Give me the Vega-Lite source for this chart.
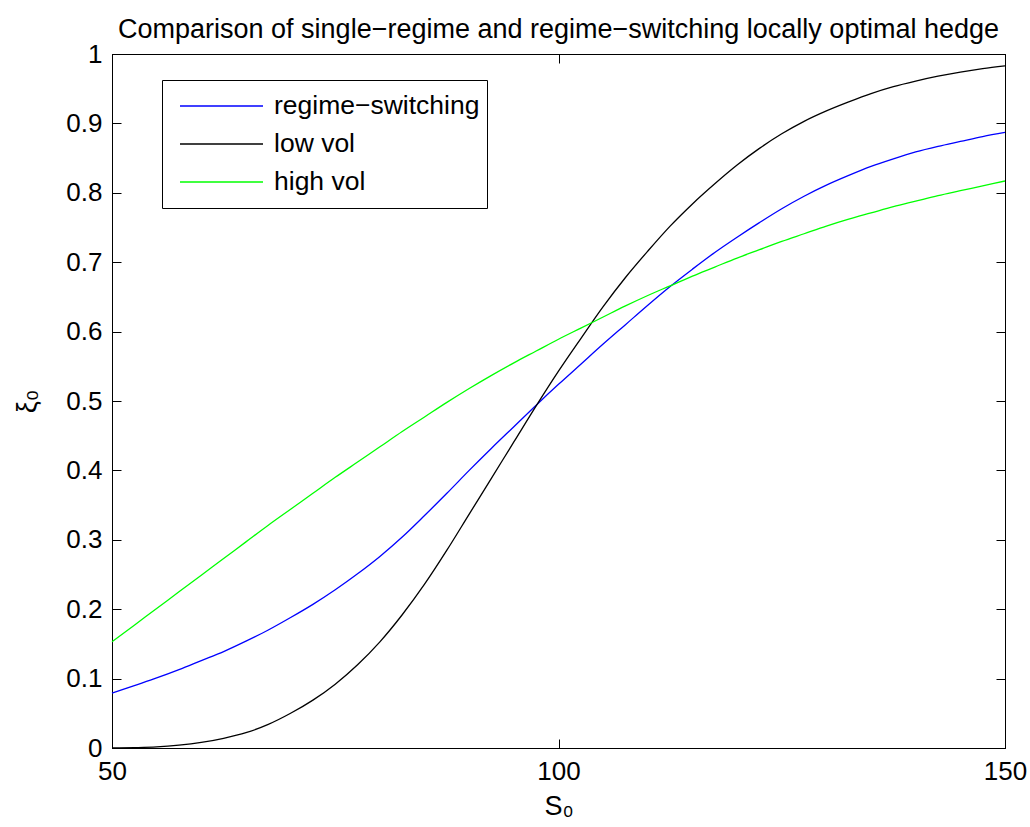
{
  "$schema": "https://vega.github.io/schema/vega-lite/v6.json",
  "width": 893,
  "height": 694,
  "autosize": {"type": "none"},
  "padding": {"left": 112, "top": 54, "right": 25, "bottom": 79},
  "background": "white",
  "config": {
    "font": "Liberation Sans",
    "view": {"stroke": "black", "strokeWidth": 1},
    "axis": {
      "domainColor": "black", "domainWidth": 1,
      "tickColor": "black", "tickWidth": 1, "tickSize": -9,
      "labelFont": "Liberation Sans", "labelFontSize": 26, "labelColor": "black",
      "titleFont": "Liberation Sans", "titleFontSize": 27, "titleFontWeight": "normal", "titleColor": "black",
      "grid": false
    },
    "legend": {
      "labelFont": "Liberation Sans", "labelFontSize": 26.5, "labelColor": "black"
    }
  },
  "title": {
    "text": "Comparison of single−regime and regime−switching locally optimal hedge",
    "font": "Liberation Sans", "fontSize": 27, "fontWeight": "normal", "color": "black",
    "anchor": "middle", "offset": -3
  },
  "data": {
    "values": [
      {"S": 50, "v": 0.079, "series": "regime−switching"},
      {"S": 52.5, "v": 0.090, "series": "regime−switching"},
      {"S": 55, "v": 0.101, "series": "regime−switching"},
      {"S": 57.5, "v": 0.113, "series": "regime−switching"},
      {"S": 60, "v": 0.126, "series": "regime−switching"},
      {"S": 62.5, "v": 0.139, "series": "regime−switching"},
      {"S": 65, "v": 0.154, "series": "regime−switching"},
      {"S": 67.5, "v": 0.170, "series": "regime−switching"},
      {"S": 70, "v": 0.188, "series": "regime−switching"},
      {"S": 72.5, "v": 0.207, "series": "regime−switching"},
      {"S": 75, "v": 0.228, "series": "regime−switching"},
      {"S": 77.5, "v": 0.251, "series": "regime−switching"},
      {"S": 80, "v": 0.276, "series": "regime−switching"},
      {"S": 82.5, "v": 0.304, "series": "regime−switching"},
      {"S": 85, "v": 0.335, "series": "regime−switching"},
      {"S": 87.5, "v": 0.367, "series": "regime−switching"},
      {"S": 90, "v": 0.400, "series": "regime−switching"},
      {"S": 92.5, "v": 0.432, "series": "regime−switching"},
      {"S": 95, "v": 0.463, "series": "regime−switching"},
      {"S": 97.5, "v": 0.494, "series": "regime−switching"},
      {"S": 100, "v": 0.524, "series": "regime−switching"},
      {"S": 102.5, "v": 0.553, "series": "regime−switching"},
      {"S": 105, "v": 0.582, "series": "regime−switching"},
      {"S": 107.5, "v": 0.610, "series": "regime−switching"},
      {"S": 110, "v": 0.638, "series": "regime−switching"},
      {"S": 112.5, "v": 0.665, "series": "regime−switching"},
      {"S": 115, "v": 0.690, "series": "regime−switching"},
      {"S": 117.5, "v": 0.714, "series": "regime−switching"},
      {"S": 120, "v": 0.736, "series": "regime−switching"},
      {"S": 122.5, "v": 0.757, "series": "regime−switching"},
      {"S": 125, "v": 0.777, "series": "regime−switching"},
      {"S": 127.5, "v": 0.795, "series": "regime−switching"},
      {"S": 130, "v": 0.811, "series": "regime−switching"},
      {"S": 132.5, "v": 0.825, "series": "regime−switching"},
      {"S": 135, "v": 0.838, "series": "regime−switching"},
      {"S": 137.5, "v": 0.849, "series": "regime−switching"},
      {"S": 140, "v": 0.859, "series": "regime−switching"},
      {"S": 142.5, "v": 0.867, "series": "regime−switching"},
      {"S": 145, "v": 0.874, "series": "regime−switching"},
      {"S": 147.5, "v": 0.881, "series": "regime−switching"},
      {"S": 150, "v": 0.887, "series": "regime−switching"},

      {"S": 50, "v": 0.000, "series": "low vol"},
      {"S": 52.5, "v": 0.0005, "series": "low vol"},
      {"S": 55, "v": 0.0015, "series": "low vol"},
      {"S": 57.5, "v": 0.004, "series": "low vol"},
      {"S": 60, "v": 0.008, "series": "low vol"},
      {"S": 62.5, "v": 0.014, "series": "low vol"},
      {"S": 65, "v": 0.022, "series": "low vol"},
      {"S": 67.5, "v": 0.034, "series": "low vol"},
      {"S": 70, "v": 0.050, "series": "low vol"},
      {"S": 72.5, "v": 0.069, "series": "low vol"},
      {"S": 75, "v": 0.092, "series": "low vol"},
      {"S": 77.5, "v": 0.120, "series": "low vol"},
      {"S": 80, "v": 0.153, "series": "low vol"},
      {"S": 82.5, "v": 0.192, "series": "low vol"},
      {"S": 85, "v": 0.236, "series": "low vol"},
      {"S": 87.5, "v": 0.285, "series": "low vol"},
      {"S": 90, "v": 0.337, "series": "low vol"},
      {"S": 92.5, "v": 0.389, "series": "low vol"},
      {"S": 95, "v": 0.441, "series": "low vol"},
      {"S": 97.5, "v": 0.493, "series": "low vol"},
      {"S": 100, "v": 0.543, "series": "low vol"},
      {"S": 102.5, "v": 0.590, "series": "low vol"},
      {"S": 105, "v": 0.636, "series": "low vol"},
      {"S": 107.5, "v": 0.678, "series": "low vol"},
      {"S": 110, "v": 0.716, "series": "low vol"},
      {"S": 112.5, "v": 0.752, "series": "low vol"},
      {"S": 115, "v": 0.784, "series": "low vol"},
      {"S": 117.5, "v": 0.813, "series": "low vol"},
      {"S": 120, "v": 0.840, "series": "low vol"},
      {"S": 122.5, "v": 0.864, "series": "low vol"},
      {"S": 125, "v": 0.885, "series": "low vol"},
      {"S": 127.5, "v": 0.903, "series": "low vol"},
      {"S": 130, "v": 0.918, "series": "low vol"},
      {"S": 132.5, "v": 0.931, "series": "low vol"},
      {"S": 135, "v": 0.943, "series": "low vol"},
      {"S": 137.5, "v": 0.953, "series": "low vol"},
      {"S": 140, "v": 0.961, "series": "low vol"},
      {"S": 142.5, "v": 0.968, "series": "low vol"},
      {"S": 145, "v": 0.974, "series": "low vol"},
      {"S": 147.5, "v": 0.979, "series": "low vol"},
      {"S": 150, "v": 0.983, "series": "low vol"},

      {"S": 50, "v": 0.153, "series": "high vol"},
      {"S": 52.5, "v": 0.177, "series": "high vol"},
      {"S": 55, "v": 0.201, "series": "high vol"},
      {"S": 57.5, "v": 0.225, "series": "high vol"},
      {"S": 60, "v": 0.249, "series": "high vol"},
      {"S": 62.5, "v": 0.273, "series": "high vol"},
      {"S": 65, "v": 0.297, "series": "high vol"},
      {"S": 67.5, "v": 0.321, "series": "high vol"},
      {"S": 70, "v": 0.344, "series": "high vol"},
      {"S": 72.5, "v": 0.367, "series": "high vol"},
      {"S": 75, "v": 0.390, "series": "high vol"},
      {"S": 77.5, "v": 0.412, "series": "high vol"},
      {"S": 80, "v": 0.434, "series": "high vol"},
      {"S": 82.5, "v": 0.456, "series": "high vol"},
      {"S": 85, "v": 0.477, "series": "high vol"},
      {"S": 87.5, "v": 0.498, "series": "high vol"},
      {"S": 90, "v": 0.518, "series": "high vol"},
      {"S": 92.5, "v": 0.537, "series": "high vol"},
      {"S": 95, "v": 0.555, "series": "high vol"},
      {"S": 97.5, "v": 0.572, "series": "high vol"},
      {"S": 100, "v": 0.589, "series": "high vol"},
      {"S": 102.5, "v": 0.605, "series": "high vol"},
      {"S": 105, "v": 0.621, "series": "high vol"},
      {"S": 107.5, "v": 0.637, "series": "high vol"},
      {"S": 110, "v": 0.652, "series": "high vol"},
      {"S": 112.5, "v": 0.666, "series": "high vol"},
      {"S": 115, "v": 0.680, "series": "high vol"},
      {"S": 117.5, "v": 0.693, "series": "high vol"},
      {"S": 120, "v": 0.706, "series": "high vol"},
      {"S": 122.5, "v": 0.718, "series": "high vol"},
      {"S": 125, "v": 0.730, "series": "high vol"},
      {"S": 127.5, "v": 0.741, "series": "high vol"},
      {"S": 130, "v": 0.752, "series": "high vol"},
      {"S": 132.5, "v": 0.762, "series": "high vol"},
      {"S": 135, "v": 0.771, "series": "high vol"},
      {"S": 137.5, "v": 0.780, "series": "high vol"},
      {"S": 140, "v": 0.788, "series": "high vol"},
      {"S": 142.5, "v": 0.796, "series": "high vol"},
      {"S": 145, "v": 0.803, "series": "high vol"},
      {"S": 147.5, "v": 0.810, "series": "high vol"},
      {"S": 150, "v": 0.817, "series": "high vol"}
    ]
  },
  "layer": [
    {
      "mark": {"type": "line", "strokeWidth": 1.3, "interpolate": "monotone"},
      "encoding": {
        "x": {
          "field": "S", "type": "quantitative",
          "scale": {"domain": [50, 150], "nice": false, "zero": false},
          "axis": {"orient": "bottom", "values": [50, 100, 150], "title": "S₀", "labelPadding": 19, "titlePadding": 9, "labelFlush": false}
        },
        "y": {
          "field": "v", "type": "quantitative",
          "scale": {"domain": [0, 1], "nice": false},
          "axis": {"orient": "left", "values": [0, 0.1, 0.2, 0.3, 0.4, 0.5, 0.6, 0.7, 0.8, 0.9, 1], "labelExpr": "'' + datum.value", "title": "ξ₀", "labelPadding": 19, "titlePadding": 24, "labelFlush": false}
        },
        "color": {
          "field": "series", "type": "nominal",
          "scale": {"domain": ["regime−switching", "low vol", "high vol"], "range": ["#0000ff", "#000000", "#00ff00"]},
          "legend": {
            "title": null, "orient": "none", "legendX": 50, "legendY": 26,
            "symbolType": "stroke", "symbolSize": 6889, "symbolStrokeWidth": 1.3,
            "symbolOffset": 10, "labelLimit": 0,
            "labelOffset": 10, "padding": 7, "rowPadding": 0, "clipHeight": 38,
            "strokeColor": "black", "fillColor": "white"
          }
        }
      }
    },
    {
      "mark": {"type": "line", "opacity": 0},
      "encoding": {
        "x": {"field": "S", "type": "quantitative", "axis": {"orient": "top", "values": [50, 100, 150], "labels": false, "title": null}},
        "y": {"field": "v", "type": "quantitative", "axis": {"orient": "right", "values": [0, 0.1, 0.2, 0.3, 0.4, 0.5, 0.6, 0.7, 0.8, 0.9, 1], "labels": false, "title": null}},
        "color": {"field": "series", "type": "nominal", "legend": null}
      }
    }
  ],
  "resolve": {"axis": {"x": "independent", "y": "independent"}}
}
